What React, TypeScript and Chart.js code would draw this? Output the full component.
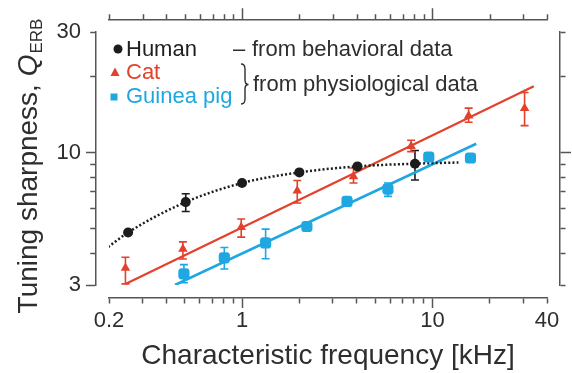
import { useEffect, useRef } from "react";
import { Chart, registerables } from "chart.js";

Chart.register(...registerables);

// ---- axis ticks ----
const X_TICKS = [0.2, 0.3, 0.4, 0.5, 0.6, 0.7, 0.8, 0.9, 1, 2, 3, 4, 5, 6, 7, 8, 9, 10, 20, 30, 40];
const X_LABELS = [0.2, 1, 10, 40];
const X_MAJOR = [1, 10];
const Y_TICKS = [3, 4, 5, 6, 7, 8, 9, 10, 20, 30];
const Y_LABELS = [3, 10, 30];
const Y_MAJOR_LEFT = [3, 10];
const Y_MAJOR_RIGHT = [10];

// ---- Human (behavioral) ----
const humanFreq = [0.252, 0.506, 1.0, 2.0, 4.04, 8.1];
const humanQ = [4.84, 6.38, 7.59, 8.36, 8.83, 9.05];
const humanLo = [null, 5.86, null, null, null, 7.8];
const humanHi = [null, 6.88, null, null, null, 10.2];
const humanFitFreq = [0.198, 0.252, 0.506, 1.0, 2.0, 4.04, 8.1, 13.7];
const humanFitQ = [4.24, 4.84, 6.38, 7.59, 8.36, 8.83, 9.05, 9.15];

// ---- Cat ----
const catFreq = [0.244, 0.489, 0.99, 1.95, 3.85, 7.73, 15.5, 30.5];
const catQ = [3.5, 4.16, 5.07, 7.08, 8.06, 10.6, 14.0, 15.0];
const catLo = [3.03, 3.8, 4.64, 6.33, 7.59, 10.1, 13.2, 12.8];
const catHi = [3.86, 4.44, 5.47, 7.77, 8.7, 11.2, 15.0, 17.3];
const catFitFreq = [0.244, 34.1];
const catFitQ = [3.03, 18.3];

// ---- Guinea pig ----
const gpFreq = [0.495, 0.807, 1.33, 2.19, 3.56, 5.84, 9.57, 15.85];
const gpQ = [3.32, 3.84, 4.4, 5.11, 6.42, 7.18, 9.62, 9.53];
const gpLo = [3.06, 3.47, 3.81, 4.95, null, 6.72, 9.3, null];
const gpHi = [3.61, 4.22, 4.99, 5.25, null, 7.59, 9.95, null];
const gpFitFreq = [0.444, 17.0];
const gpFitQ = [3.0, 10.85];

const BLACK = "#1c1c1c";
const RED = "#e4412c";
const BLUE = "#1ea7e1";
const AXIS = "#555555";
const TEXT = "#2e2e2e";
const FONT = "'Liberation Sans', Arial, Helvetica, sans-serif";

const pts = (xs: number[], ys: number[]) => xs.map((x, i) => ({ x, y: ys[i] }));

const errorBarPlugin = {
  id: "errorBars",
  beforeDatasetsDraw(chart: any) {
    const { ctx, scales } = chart;
    const xs = scales.x;
    const ys = scales.y;
    const groups = [
      { f: humanFreq, lo: humanLo, hi: humanHi, c: BLACK },
      { f: catFreq, lo: catLo, hi: catHi, c: RED },
      { f: gpFreq, lo: gpLo, hi: gpHi, c: BLUE },
    ];
    ctx.save();
    ctx.lineWidth = 1.6;
    for (const g of groups) {
      ctx.strokeStyle = g.c;
      g.f.forEach((f, i) => {
        const lo = g.lo[i];
        const hi = g.hi[i];
        if (lo == null || hi == null) return;
        const px = xs.getPixelForValue(f);
        const p1 = ys.getPixelForValue(lo);
        const p2 = ys.getPixelForValue(hi);
        ctx.beginPath();
        ctx.moveTo(px, p1);
        ctx.lineTo(px, p2);
        ctx.moveTo(px - 4, p1);
        ctx.lineTo(px + 4, p1);
        ctx.moveTo(px - 4, p2);
        ctx.lineTo(px + 4, p2);
        ctx.stroke();
      });
    }
    ctx.restore();
  },
};

const decorPlugin = {
  id: "decor",
  afterDraw(chart: any) {
    const { ctx } = chart;

    // ---- top axis tick marks (pointing up from the top axis line) ----
    const top = chart.scales.xTop;
    ctx.save();
    ctx.strokeStyle = AXIS;
    ctx.lineWidth = 1.5;
    ctx.beginPath();
    const baseY = top.bottom - 0.75;
    for (const v of X_TICKS) {
      const px = Math.round(top.getPixelForValue(v)) + 0.5;
      const len = X_MAJOR.includes(v) ? 11 : 5;
      ctx.moveTo(px, baseY);
      ctx.lineTo(px, baseY - len);
    }
    ctx.stroke();
    ctx.restore();

    ctx.save();
    // ---- y-axis title with subscript ----
    ctx.translate(37, 166);
    ctx.rotate(-Math.PI / 2);
    ctx.fillStyle = TEXT;
    ctx.textBaseline = "alphabetic";
    ctx.textAlign = "left";
    const fMain = `28px ${FONT}`;
    const fItal = `italic 28px ${FONT}`;
    const fSub = `17px ${FONT}`;
    const t1 = "Tuning sharpness, ";
    const t2 = "Q";
    const t3 = "ERB";
    ctx.font = fMain;
    const w1 = ctx.measureText(t1).width;
    ctx.font = fItal;
    const w2 = ctx.measureText(t2).width;
    ctx.font = fSub;
    const w3 = ctx.measureText(t3).width;
    let x0 = -(w1 + w2 + w3 + 1) / 2;
    ctx.font = fMain;
    ctx.fillText(t1, x0, 0);
    x0 += w1;
    ctx.font = fItal;
    ctx.fillText(t2, x0, 0);
    x0 += w2 + 1;
    ctx.font = fSub;
    ctx.fillText(t3, x0, 5);
    ctx.restore();

    // ---- legend ----
    ctx.save();
    ctx.textBaseline = "middle";
    ctx.textAlign = "left";
    ctx.font = `22px ${FONT}`;
    // Human
    ctx.fillStyle = BLACK;
    ctx.beginPath();
    ctx.arc(118, 49, 4.5, 0, Math.PI * 2);
    ctx.fill();
    ctx.fillStyle = "#202020";
    ctx.fillText("Human", 126, 50);
    ctx.fillStyle = TEXT;
    ctx.fillText("\u2013", 233, 50);
    ctx.fillText("from behavioral data", 252, 50);
    // Cat
    ctx.fillStyle = RED;
    ctx.beginPath();
    ctx.moveTo(115, 67.5);
    ctx.lineTo(119.5, 76);
    ctx.lineTo(110.5, 76);
    ctx.closePath();
    ctx.fill();
    ctx.fillText("Cat", 126, 73);
    // Guinea pig
    ctx.fillStyle = BLUE;
    ctx.fillRect(110.5, 93.5, 7, 7);
    ctx.fillText("Guinea pig", 126, 97);
    // brace
    ctx.strokeStyle = TEXT;
    ctx.lineWidth = 1.4;
    ctx.beginPath();
    ctx.moveTo(241, 64);
    ctx.quadraticCurveTo(245, 64, 245, 69);
    ctx.lineTo(245, 80);
    ctx.quadraticCurveTo(245, 84.5, 248.5, 84.5);
    ctx.quadraticCurveTo(245, 84.5, 245, 89);
    ctx.lineTo(245, 99);
    ctx.quadraticCurveTo(245, 104, 241, 104);
    ctx.stroke();
    ctx.fillStyle = TEXT;
    ctx.fillText("from physiological data", 253, 85);
    ctx.restore();
  },
};

// Short (minor) tick marks are drawn as the first/last part of a full-length tick via a dash pattern.
const MINOR = 5;
const minorDash = [MINOR, 200];
const outerOffset = (tl: number) => MINOR + 200 - (tl - 0.75 - MINOR);

const spacer = (axis: "x" | "y", position: string, size: number) => ({
  type: "linear",
  axis,
  position,
  weight: 0,
  display: true,
  grid: { display: false },
  border: { display: false },
  ticks: { display: false },
  afterFit: (s: any) => {
    if (axis === "x") s.height = size;
    else s.width = size;
  },
});

const tickGrid = (tl: number, majors: number[], outward: boolean) => ({
  drawOnChartArea: false,
  tickLength: tl,
  tickWidth: 1.5,
  tickColor: AXIS,
  color: AXIS,
  tickBorderDash: (c: any) => (majors.includes(c.tick?.value) ? [] : minorDash),
  tickBorderDashOffset: (c: any) =>
    majors.includes(c.tick?.value) ? 0 : outward ? 0 : outerOffset(tl),
});

export default function App() {
  const ref = useRef<HTMLCanvasElement | null>(null);

  useEffect(() => {
    if (!ref.current) return;
    Chart.defaults.font.family = FONT;
    const chart = new Chart(ref.current, {
      type: "scatter",
      data: {
        datasets: [
          {
            label: "Human",
            data: pts(humanFreq, humanQ),
            pointStyle: "circle",
            pointRadius: 5,
            backgroundColor: BLACK,
            borderColor: BLACK,
            borderWidth: 0,
            order: 0,
          },
          {
            label: "Cat",
            data: pts(catFreq, catQ),
            pointStyle: "triangle",
            pointRadius: 5.5,
            backgroundColor: RED,
            borderColor: RED,
            borderWidth: 0,
            order: 0,
          },
          {
            label: "Guinea pig",
            data: pts(gpFreq, gpQ),
            pointStyle: "rectRounded",
            pointRadius: 6.5,
            backgroundColor: BLUE,
            borderColor: BLUE,
            borderWidth: 0,
            order: 0,
          },
          {
            label: "Human fit",
            data: pts(humanFitFreq, humanFitQ),
            showLine: true,
            pointRadius: 0,
            borderColor: BLACK,
            borderWidth: 2.5,
            borderDash: [2, 2.2],
            cubicInterpolationMode: "monotone",
            order: 2,
          },
          {
            label: "Cat fit",
            data: pts(catFitFreq, catFitQ),
            showLine: true,
            pointRadius: 0,
            borderColor: RED,
            borderWidth: 2.2,
            order: 2,
          },
          {
            label: "Guinea pig fit",
            data: pts(gpFitFreq, gpFitQ),
            showLine: true,
            pointRadius: 0,
            borderColor: BLUE,
            borderWidth: 2.6,
            order: 2,
          },
        ],
      },
      options: {
        responsive: false,
        animation: false,
        events: [],
        layout: { padding: 0 },
        plugins: { legend: { display: false }, tooltip: { enabled: false } },
        scales: {
          x: {
            type: "logarithmic",
            position: "bottom",
            weight: 1,
            min: 0.2,
            max: 40,
            bounds: "data",
            afterBuildTicks: (s: any) => {
              s.ticks = X_TICKS.map((v) => ({ value: v }));
            },
            ticks: {
              autoSkip: false,
              maxRotation: 0,
              padding: 0,
              color: TEXT,
              font: { size: 22 },
              callback: (v: any) => (X_LABELS.includes(Number(v)) ? String(v) : ""),
            },
            grid: tickGrid(10, X_MAJOR, true),
            border: { display: true, color: AXIS, width: 1.5 },
            title: {
              display: true,
              text: "Characteristic frequency [kHz]",
              color: TEXT,
              font: { size: 28 },
              padding: 0,
            },
            afterFit: (s: any) => {
              s.height = 75;
            },
          },
          xSpacerB: spacer("x", "bottom", 13),
          xTop: {
            type: "logarithmic",
            axis: "x",
            position: "top",
            weight: 1,
            min: 0.2,
            max: 40,
            bounds: "data",
            ticks: { display: false },
            grid: { display: false },
            border: { display: true, color: AXIS, width: 1.5 },
            afterFit: (s: any) => {
              s.height = 20;
            },
          },
          xSpacerT: spacer("x", "top", 12),
          y: {
            type: "logarithmic",
            position: "left",
            weight: 1,
            min: 3,
            max: 30,
            bounds: "data",
            afterBuildTicks: (s: any) => {
              s.ticks = Y_TICKS.map((v) => ({ value: v }));
            },
            ticks: {
              autoSkip: false,
              padding: 5,
              color: TEXT,
              font: { size: 22 },
              callback: (v: any) => (Y_LABELS.includes(Number(v)) ? String(v) : ""),
            },
            grid: tickGrid(10, Y_MAJOR_LEFT, false),
            border: { display: true, color: AXIS, width: 1.5 },
            afterFit: (s: any) => {
              s.width = 96;
            },
          },
          ySpacerL: spacer("y", "left", 13),
          yRight: {
            type: "logarithmic",
            axis: "y",
            position: "right",
            weight: 1,
            min: 3,
            max: 30,
            bounds: "data",
            afterBuildTicks: (s: any) => {
              s.ticks = Y_TICKS.map((v) => ({ value: v }));
            },
            ticks: { display: false, autoSkip: false },
            grid: tickGrid(11, Y_MAJOR_RIGHT, true),
            border: { display: true, color: AXIS, width: 1.5 },
            afterFit: (s: any) => {
              s.width = 12;
            },
          },
          ySpacerR: spacer("y", "right", 13),
        } as any,
      },
      plugins: [errorBarPlugin, decorPlugin],
    } as any);
    return () => chart.destroy();
  }, []);

  return (
    <div style={{ position: "absolute", left: 0, top: 0, width: 572, height: 373, background: "#fff" }}>
      <canvas ref={ref} width={572} height={373} style={{ display: "block" }} />
    </div>
  );
}
